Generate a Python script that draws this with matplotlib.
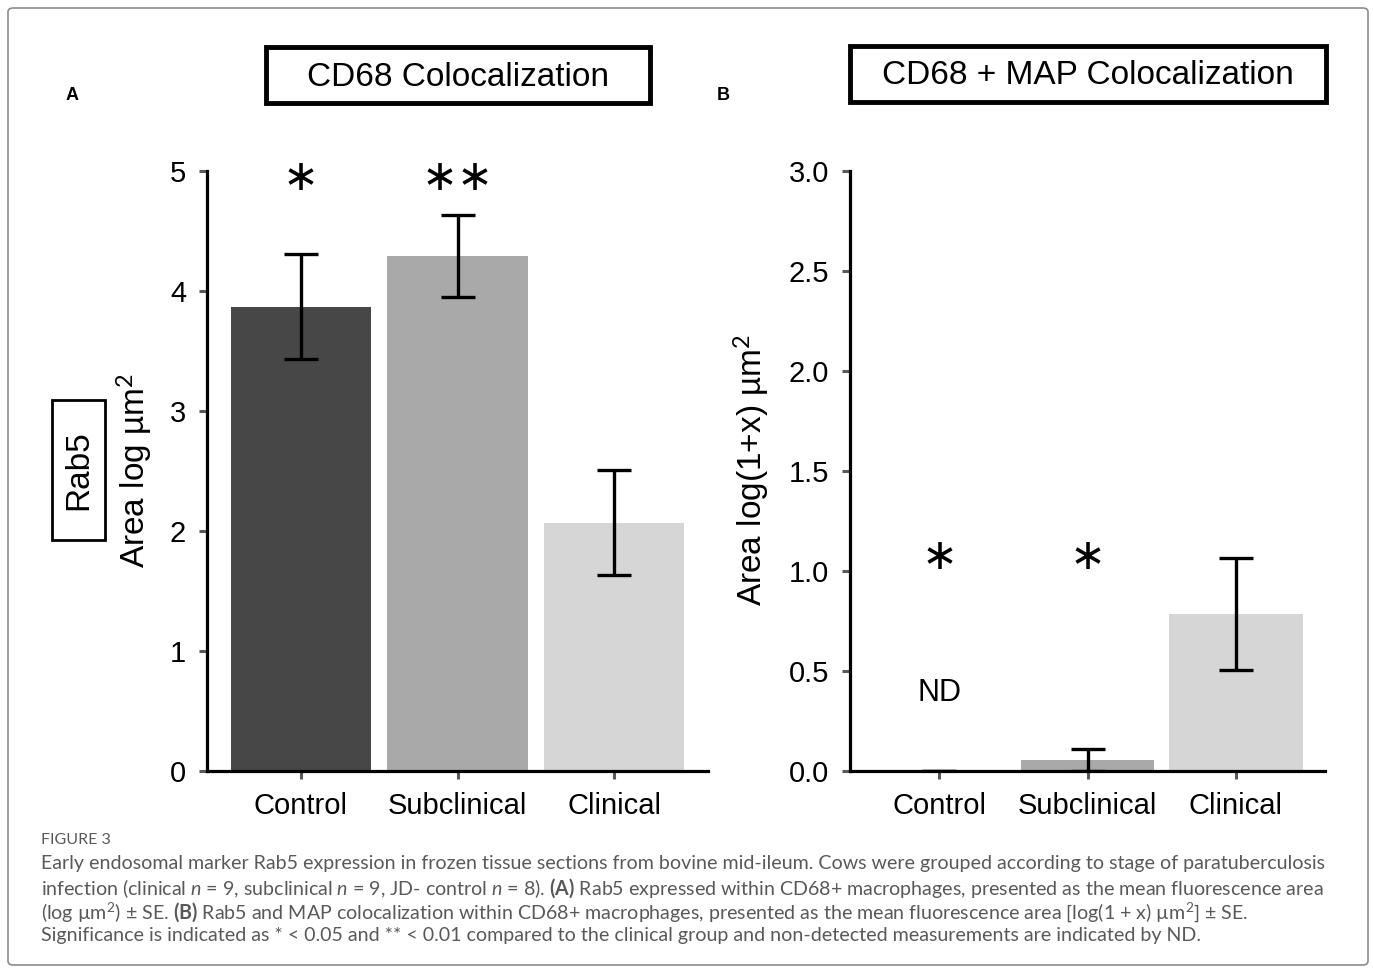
import matplotlib
matplotlib.use("Agg")
import matplotlib.pyplot as plt
from matplotlib.patches import Rectangle, FancyBboxPatch

plt.rcParams['font.family'] = ['Liberation Sans', 'DejaVu Sans']
plt.rcParams['mathtext.fontset'] = 'custom'
plt.rcParams['mathtext.rm'] = 'Lato'
plt.rcParams['mathtext.it'] = 'Lato:italic'
plt.rcParams['mathtext.bf'] = 'Lato:bold'

# data
groups = ['Control', 'Subclinical', 'Clinical']
bar_colors = ['#474747', '#a9a9a9', '#d6d6d6']

rab5_cd68 = [3.87, 4.29, 2.07]
rab5_cd68_se = [0.44, 0.34, 0.44]
stars_a = ['∗', '∗∗', '']
star_y_a = 4.94

rab5_map = [0.0, 0.055, 0.785]
rab5_map_se = [0.0, 0.055, 0.28]
stars_b = ['∗', '∗', '']
star_y_b = 1.07
nd_y = 0.39

yticks_a = [0, 1, 2, 3, 4, 5]
yticks_b = [0.0, 0.5, 1.0, 1.5, 2.0, 2.5, 3.0]

W, H = 1373, 969
fig = plt.figure(figsize=(W / 100, H / 100), dpi=100)


def fx(px):
    return px / W


def fy(py):
    return 1 - py / H


def style_axis(ax):
    for s in ['top', 'right']:
        ax.spines[s].set_visible(False)
    for s in ['left', 'bottom']:
        ax.spines[s].set_linewidth(2.3)
        ax.spines[s].set_color('black')
    ax.tick_params(axis='both', length=6, width=2.2, color='#5a5a5a',
                   labelsize=21, labelcolor='black')
    ax.tick_params(axis='y', pad=9)
    ax.tick_params(axis='x', pad=9)
    ax.set_xlim(-0.6, 2.6)


def draw_bars(ax, vals, errs, width):
    x = list(range(len(groups)))
    ax.bar(x, vals, width=width, color=bar_colors, yerr=errs, zorder=2,
           error_kw=dict(ecolor='black', elinewidth=2.4, capsize=12, capthick=2.4, zorder=3))
    ax.set_xticks(x)
    ax.set_xticklabels(groups)


def put_stars(ax, stars, y):
    for i, s in enumerate(stars):
        if s:
            ax.text(i, y, s, ha='center', va='center', fontsize=31,
                    family='DejaVu Sans', fontweight='normal')


# panel A
axA = fig.add_axes([fx(207), fy(771), fx(708) - fx(207), fy(171) - fy(771)])
draw_bars(axA, rab5_cd68, rab5_cd68_se, 0.895)
axA.set_ylim(0, 5)
axA.set_yticks(yticks_a)
style_axis(axA)
put_stars(axA, stars_a, star_y_a)

# panel B
axB = fig.add_axes([fx(850), fy(771), fx(1325) - fx(850), fy(171) - fy(771)])
draw_bars(axB, rab5_map, rab5_map_se, 0.9)
axB.set_ylim(0, 3)
axB.set_yticks(yticks_b)
axB.set_yticklabels(['%.1f' % v for v in yticks_b])
style_axis(axB)
put_stars(axB, stars_b, star_y_b)
axB.text(0, nd_y, 'ND', ha='center', va='center', fontsize=22)

# y labels
fig.text(fx(135), fy(470), 'Area log µm$^2$', rotation=90, ha='center', va='center', fontsize=24)
fig.text(fx(752), fy(470), 'Area log(1+x) µm$^2$', rotation=90, ha='center', va='center', fontsize=24)

# Rab5 box
fig.patches.append(Rectangle((fx(52), fy(540)), fx(105) - fx(52), fy(400) - fy(540),
                             transform=fig.transFigure, fill=False, ec='black', lw=2))
fig.text(fx(78.5), fy(470), 'Rab5', rotation=90, ha='center', va='center', fontsize=24)

# title boxes
fig.patches.append(Rectangle((fx(266), fy(103)), fx(650) - fx(266), fy(47) - fy(103),
                             transform=fig.transFigure, fill=False, ec='black', lw=3.5))
fig.text(fx(458), fy(77), 'CD68 Colocalization', ha='center', va='center', fontsize=24)
fig.patches.append(Rectangle((fx(850), fy(102)), fx(1326) - fx(850), fy(46) - fy(102),
                             transform=fig.transFigure, fill=False, ec='black', lw=3.5))
fig.text(fx(1088), fy(76), 'CD68 + MAP Colocalization', ha='center', va='center', fontsize=24)

# panel letters
fig.text(fx(72), fy(95), 'A', ha='center', va='center', fontsize=13, fontweight='bold')
fig.text(fx(723), fy(95), 'B', ha='center', va='center', fontsize=13, fontweight='bold')

# outer frame
fig.patches.append(FancyBboxPatch((fx(8), fy(965)), fx(1368) - fx(8), fy(8) - fy(965),
                                  boxstyle='round,pad=0,rounding_size=0.004',
                                  transform=fig.transFigure, fill=False, ec='#8c8c8c', lw=1.2))

# caption
cap_color = '#595959'
fig.text(fx(41), fy(840), 'FIGURE 3', ha='left', va='center', fontsize=11.5,
         color=cap_color, family='Lato')
caption = [
    'Early endosomal marker Rab5 expression in frozen tissue sections from bovine mid-ileum. '
    'Cows were grouped according to stage of paratuberculosis',
    'infection (clinical $n$ = 9, subclinical $n$ = 9, JD- control $n$ = 8). $\\mathbf{(A)}$ '
    'Rab5 expressed within CD68+ macrophages, presented as the mean fluorescence area',
    '(log µm$^2$) ± SE. $\\mathbf{(B)}$ Rab5 and MAP colocalization within CD68+ macrophages, '
    'presented as the mean fluorescence area [log(1 + x) µm$^2$] ± SE.',
    'Significance is indicated as * < 0.05 and ** < 0.01 compared to the clinical group '
    'and non-detected measurements are indicated by ND.',
]
for k, line in enumerate(caption):
    fig.text(fx(41), fy(864 + 24 * k), line, ha='left', va='center', fontsize=14.1,
             color=cap_color, family='Lato')

fig.savefig('out.png', dpi=100)
